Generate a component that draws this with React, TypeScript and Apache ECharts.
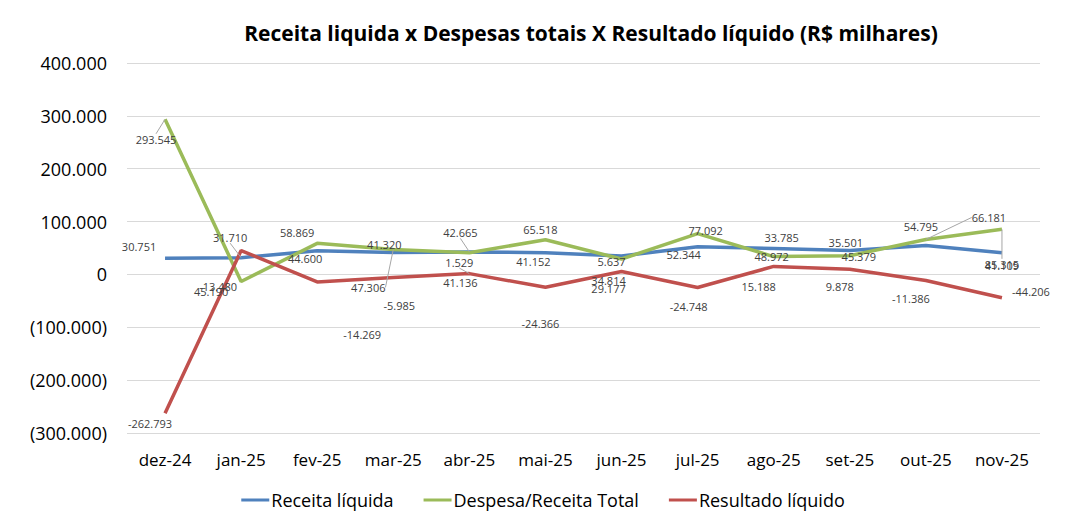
import React, { useEffect, useRef } from "react";
import * as echarts from "echarts";

const categories = ["dez-24", "jan-25", "fev-25", "mar-25", "abr-25", "mai-25", "jun-25", "jul-25", "ago-25", "set-25", "out-25", "nov-25"];
const receitaLiquida = [30751, 31710, 44600, 41320, 42665, 41152, 34814, 52344, 48972, 45379, 54795, 41109];
const despesaTotal = [293545, -13480, 58869, 47306, 41136, 65518, 29177, 77092, 33785, 35501, 66181, 85315];
const resultadoLiquido = [-262793, 45190, -14269, -5985, 1529, -24366, 5637, -24748, 15188, 9878, -11386, -44206];

// label displacement (px) relative to each point
const offReceita = [[-26, -12], [-11, -20], [-12, 8], [-9, -8], [-9, -19], [-12, 9], [-13, 24], [-14, 8], [-2, 8], [9, 6], [-5, -19], [0, 13]];
const offDespesa = [[-9, 20], [-23, 5], [-20, -11], [-25, 38], [-9, 30], [-5, -10], [-13, 29], [8, -3], [8, -19], [-4, -13], [63, -22], [0, 35]];
const offResultado = [[-15, 10], [-30, 41], [45, 53], [6, 28], [-10, -11], [-5, 36], [-10, -10], [-9, 19], [-15, 20], [-10, 17], [-15, 18], [29, -6]];
const leaderReceita = [1, 4];
const leaderDespesa = [0, 3, 10, 11];
const leaderResultado = [4];

const FONT = "'Open Sans', sans-serif";

function dots(n: number): string {
  const s = Math.round(Math.abs(n)).toString();
  return s.replace(/\B(?=(\d{3})+(?!\d))/g, ".");
}
function fmtLabel(n: number): string {
  return (n < 0 ? "-" : "") + dots(n);
}
function fmtAxis(n: number): string {
  if (n === 0) return "0";
  return n < 0 ? "(" + dots(n) + ")" : dots(n);
}

function makeSeries(name: string, values: number[], color: string, offs: number[][], leaders: number[]) {
  return {
    name,
    type: "line",
    data: values.map((v, i) => ({
      value: v,
      labelLine: { show: leaders.indexOf(i) >= 0 },
    })),
    symbol: "circle",
    symbolSize: 0.1,
    showSymbol: true,
    itemStyle: { color },
    lineStyle: { color, width: 3.5 },
    label: {
      show: true,
      position: "inside",
      color: "#404040",
      fontSize: 11,
      fontFamily: FONT,
      formatter: (p: any) => fmtLabel(p.value),
    },
    labelLine: { show: false, lineStyle: { color: "#a6a6a6", width: 1 } },
    labelLayout: (p: any) => ({ dx: offs[p.dataIndex][0], dy: offs[p.dataIndex][1] }),
    emphasis: { disabled: true },
  };
}

export default function App() {
  const ref = useRef<HTMLDivElement>(null);
  useEffect(() => {
    if (!ref.current) return;
    const chart = echarts.init(ref.current, undefined, { renderer: "svg" });
    chart.setOption({
      animation: false,
      backgroundColor: "#ffffff",
      title: {
        text: "Receita liquida x Despesas totais X Resultado líquido (R$ milhares)",
        left: 578,
        textAlign: "center",
        top: 9,
        textStyle: { fontFamily: FONT, fontSize: 21, fontWeight: "bold", color: "#000000" },
      },
      legend: {
        top: 478,
        left: "center",
        icon: "rect",
        itemWidth: 28,
        itemHeight: 3,
        itemGap: 30,
        textStyle: { fontFamily: FONT, fontSize: 18, color: "#000000", padding: [0, 0, 0, -3] },
        data: ["Receita líquida", "Despesa/Receita Total", "Resultado líquido"],
      },
      grid: { left: 119, right: 38, top: 55, bottom: 85, containLabel: false },
      xAxis: {
        type: "category",
        data: categories,
        boundaryGap: true,
        axisLine: { show: false },
        axisTick: { show: false },
        axisLabel: { fontFamily: FONT, fontSize: 17, color: "#000000", margin: 18 },
      },
      yAxis: {
        type: "value",
        min: -300000,
        max: 400000,
        interval: 100000,
        axisLine: { show: false },
        axisTick: { show: false },
        splitLine: { lineStyle: { color: "#d9d9d9", width: 1 } },
        axisLabel: { fontFamily: FONT, fontSize: 18, color: "#000000", margin: 20, formatter: fmtAxis },
      },
      series: [
        makeSeries("Receita líquida", receitaLiquida, "#4f81bd", offReceita, leaderReceita),
        makeSeries("Despesa/Receita Total", despesaTotal, "#9bbb59", offDespesa, leaderDespesa),
        makeSeries("Resultado líquido", resultadoLiquido, "#c0504d", offResultado, leaderResultado),
      ],
    });
    return () => chart.dispose();
  }, []);
  return (
    <div style={{ width: 1080, height: 520, borderLeft: "1px solid #d9d9d9", borderTop: "1px solid #d9d9d9", boxSizing: "border-box", marginLeft: -1, marginTop: -1 }}>
      <div ref={ref} style={{ width: 1070, height: 510 }} />
    </div>
  );
}
